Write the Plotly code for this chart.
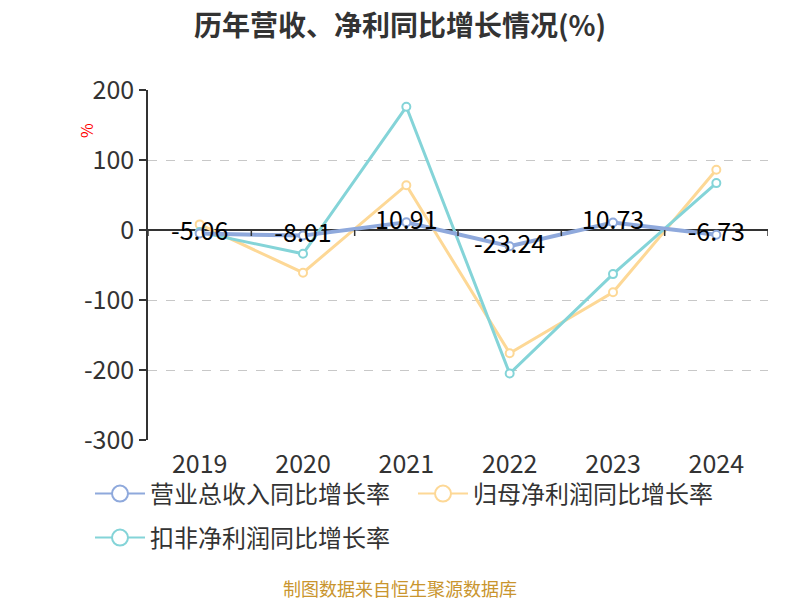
import plotly.graph_objects as go

years = ["2019", "2020", "2021", "2022", "2023", "2024"]
revenue = [-5.06, -8.01, 10.91, -23.24, 10.73, -6.73]
net_profit = [8, -61, 64, -176, -89, 86]
deducted = [-3, -34, 176, -205, -63, 67]
y_ticks = [200, 100, 0, -100, -200, -300]

names = ["营业总收入同比增长率", "归母净利润同比增长率", "扣非净利润同比增长率"]
colors = ["#8fa9dc", "#fdd896", "#84d4d8"]
widths = [4, 3, 3]

font = "Noto Sans CJK SC"
# the page body adds an 8px offset; figure is sized to fit the 800x600 window
OFF = 8
W, H = 800 - OFF, 600 - OFF

fig = go.Figure()

series = [net_profit, deducted, revenue]
idx = [1, 2, 0]
for s, i in zip(series, idx):
    fig.add_trace(go.Scatter(
        x=years, y=s, mode="lines+markers",
        line=dict(color=colors[i], width=widths[i]),
        marker=dict(symbol="circle", size=8, color="white",
                    line=dict(color=colors[i], width=2)),
        showlegend=False, hoverinfo="skip"))

fig.add_trace(go.Scatter(
    x=years, y=revenue, mode="text",
    text=[f"{v:.2f}" for v in revenue], textposition="middle center",
    textfont=dict(family=font, size=25, color="#000"),
    showlegend=False, hoverinfo="skip"))

legends = ["legend", "legend", "legend2"]
for i in range(3):
    fig.add_trace(go.Scatter(
        x=[None], y=[None], mode="lines+markers", name=names[i],
        line=dict(color=colors[i], width=2),
        marker=dict(symbol="circle", size=16, color="white",
                    line=dict(color=colors[i], width=2)),
        legend=legends[i]))

# tick marks on the zero line at category boundaries
for k in range(len(years) + 1):
    fig.add_shape(type="line", xref="x", yref="y", ysizemode="pixel",
                  yanchor=0, x0=k - 0.5, x1=k - 0.5, y0=0, y1=-6,
                  line=dict(color="#333", width=1.5))

leg_common = dict(orientation="h", x=(90 - 148) / 620, xanchor="left",
                  yanchor="middle", yref="paper",
                  font=dict(size=24, color="#333", family=font),
                  itemwidth=50, entrywidth=258, bgcolor="rgba(0,0,0,0)")

fig.update_layout(
    width=W, height=H,
    margin=dict(l=148 - OFF, r=W - (768 - OFF), t=90 - OFF, b=H - (440 - OFF)),
    paper_bgcolor="white", plot_bgcolor="white",
    font=dict(family=font, color="#333"),
    title=dict(text="<b>历年营收、净利同比增长情况(%)</b>", xref="container",
               x=(400 - OFF) / W, y=1 - (26 - OFF) / H, yref="container",
               yanchor="middle", xanchor="center",
               font=dict(size=28, color="#333", family=font)),
    xaxis=dict(type="category", range=[-0.5, 5.5], showline=False, showgrid=False,
               ticks="", tickfont=dict(size=25, color="#333"), fixedrange=True,
               ticklabelstandoff=7),
    yaxis=dict(range=[-300, 200], tickvals=y_ticks,
               ticktext=[str(v) for v in y_ticks],
               showline=True, linecolor="#333",
               linewidth=1.5, ticks="outside", ticklen=7, tickcolor="#333",
               tickwidth=1.5, showgrid=True, gridcolor="#c8c8c8", griddash="dash",
               gridwidth=1, zeroline=True, zerolinecolor="#333", zerolinewidth=1.5,
               tickfont=dict(size=25, color="#333")),
    legend=dict(y=(440 - 494) / 350, **leg_common),
    legend2=dict(y=(440 - 538) / 350, **leg_common),
    annotations=[
        dict(text="%", xref="paper", yref="paper", x=(86 - 148) / 620,
             y=(440 - 131) / 350, showarrow=False, textangle=-90,
             font=dict(size=16, color="red", family=font),
             xanchor="center", yanchor="middle"),
        dict(text="制图数据来自恒生聚源数据库", xref="paper", yref="paper",
             x=(400 - 148) / 620, y=(440 - 588) / 350, showarrow=False,
             font=dict(size=18, color="#c9952e", family=font),
             xanchor="center", yanchor="middle"),
    ],
)

fig.write_html("out.html")
